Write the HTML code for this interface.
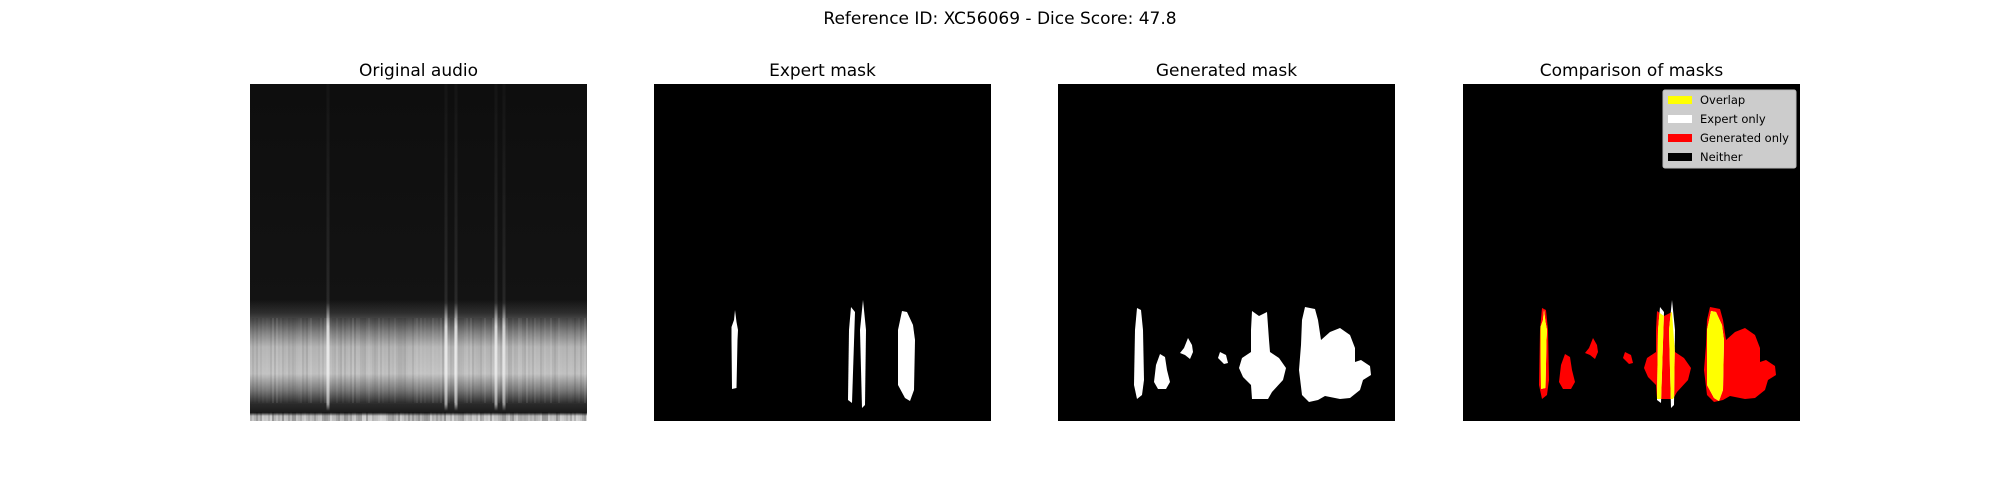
<!DOCTYPE html>
<html><head><meta charset="utf-8"><style>
html,body{margin:0;padding:0;background:#fff;}
body{width:2000px;height:500px;overflow:hidden;font-family:"DejaVu Sans","Liberation Sans",sans-serif;}
text{font-family:"DejaVu Sans","Liberation Sans",sans-serif;}
</style></head><body>
<svg id="fig" width="2000" height="500" viewBox="0 0 2000 500" xmlns="http://www.w3.org/2000/svg">
<defs>
<linearGradient id="specg" x1="0" y1="0" x2="0" y2="1">
<stop offset="0" stop-color="#0e0e0e"/>
<stop offset="0.64" stop-color="#131313"/>
<stop offset="0.68" stop-color="#2e2e2e"/>
<stop offset="0.74" stop-color="#858585"/>
<stop offset="0.78" stop-color="#b5b5b5"/>
<stop offset="0.86" stop-color="#c2c2c2"/>
<stop offset="0.91" stop-color="#777"/>
<stop offset="0.95" stop-color="#2a2a2a"/>
<stop offset="0.975" stop-color="#1a1a1a"/>
<stop offset="0.985" stop-color="#cfcfcf"/>
<stop offset="1" stop-color="#d8d8d8"/>
</linearGradient>
<linearGradient id="streakg" x1="0" y1="0" x2="0" y2="1">
<stop offset="0" stop-color="#fff" stop-opacity="0.03"/>
<stop offset="0.65" stop-color="#fff" stop-opacity="0.1"/>
<stop offset="0.72" stop-color="#fff" stop-opacity="0.8"/>
<stop offset="0.95" stop-color="#fff" stop-opacity="0.6"/>
<stop offset="0.97" stop-color="#fff" stop-opacity="0"/>
</linearGradient>
<clipPath id="spec-clip"><rect x="250" y="84" width="337" height="337"/></clipPath>
</defs>
<text x="1000" y="24" font-size="17" text-anchor="middle" fill="#000">Reference ID: XC56069 - Dice Score: 47.8</text>

<text x="418.5" y="76" font-size="17" text-anchor="middle">Original audio</text>
<text x="822.5" y="76" font-size="17" text-anchor="middle">Expert mask</text>
<text x="1226.5" y="76" font-size="17" text-anchor="middle">Generated mask</text>
<text x="1631.5" y="76" font-size="17" text-anchor="middle">Comparison of masks</text>

<g clip-path="url(#spec-clip)">
<rect x="250" y="84" width="337" height="337" fill="url(#specg)"/>
<g id="spec-streaks"></g>
</g>

<rect x="654" y="84" width="337" height="337" fill="#000"/>
<g id="expert-shapes"></g>

<rect x="1058" y="84" width="337" height="337" fill="#000"/>
<g id="gen-shapes"></g>

<rect x="1463" y="84" width="337" height="337" fill="#000"/>
<g id="cmp-shapes"></g>

<g>
<rect x="1663" y="90" width="133" height="78" rx="2" fill="#cccccc" stroke="#bbb" stroke-width="1"/>
<g><rect x="1668" y="96" width="24" height="8" fill="#ffff00"/><text x="1700" y="104" font-size="11.5">Overlap</text></g>
<g><rect x="1668" y="115" width="24" height="8" fill="#ffffff"/><text x="1700" y="123" font-size="11.5">Expert only</text></g>
<g><rect x="1668" y="134" width="24" height="8" fill="#ff0000"/><text x="1700" y="142" font-size="11.5">Generated only</text></g>
<g><rect x="1668" y="153" width="24" height="8" fill="#000000"/><text x="1700" y="161" font-size="11.5">Neither</text></g>
</g>
</svg>
<script>
const NS='http://www.w3.org/2000/svg';
// Expert mask regions (coords in expert panel pixels)
const expertRegions=[
 [[735,310],[736.5,322],[738,330],[737.5,340],[736.5,388],[732,389],[731.5,340],[731.5,327],[734,320]],
 [[851,307],[855,312],[852,403],[848,400],[849,330]],
 [[863,300],[866,330],[865,405],[862,408],[860,330]],
 [[902,311],[907,312],[913,325],[915,340],[914,390],[910,401],[905,398],[898,385],[898,330]]
];
// Generated mask regions (coords in generated panel pixels)
const generatedRegions=[
 [[1137,308],[1141,310],[1143,330],[1144,380],[1142,395],[1137,399],[1134,385],[1135,330]],
 [[1160,354],[1165,357],[1167,370],[1170,382],[1166,389],[1158,389],[1154,382],[1156,365]],
 [[1188,338],[1192,345],[1193,352],[1190,359],[1185,355],[1180,353],[1184,348]],
 [[1220,352],[1226,355],[1228,363],[1224,364],[1218,358]],
 [[1252,311],[1259,316],[1267,312],[1269,340],[1270,352],[1279,358],[1286,368],[1283,380],[1272,392],[1268,399],[1252,399],[1251,385],[1243,377],[1239,368],[1242,358],[1251,352],[1251,330]],
 [[1305,307],[1315,309],[1318,320],[1321,340],[1330,332],[1340,328],[1350,335],[1355,348],[1355,362],[1361,360],[1370,366],[1371,375],[1363,380],[1360,390],[1350,398],[1340,399],[1325,396],[1318,400],[1309,402],[1302,395],[1299,370],[1301,345],[1302,320]]
];
// spectrogram bright vertical streak positions (time frames, px) and strengths
const streakX=[328,446,456,496,504];
const streakAlpha=[0.9,0.9,0.9,0.9,0.8];
const expertShift=809, genShift=405;

function pts(r,dx){return r.map(p=>(p[0]+dx)+','+p[1]).join(' ');}
function poly(parent,r,dx,fill,name){
 const e=document.createElementNS(NS,'polygon');
 e.setAttribute('points',pts(r,dx));e.setAttribute('fill',fill);
 
 
 parent.appendChild(e);return e;
}
const eg=document.getElementById('expert-shapes');
expertRegions.forEach((r,i)=>poly(eg,r,0,'#fff','expert-region'));
const gg=document.getElementById('gen-shapes');
generatedRegions.forEach((r,i)=>poly(gg,r,0,'#fff','generated-region'));
// comparison
const cg=document.getElementById('cmp-shapes');
const defs=document.querySelector('defs');
const cp=document.createElementNS(NS,'clipPath');cp.setAttribute('id','gen-clip');
generatedRegions.forEach(r=>{const e=document.createElementNS(NS,'polygon');e.setAttribute('points',pts(r,genShift));cp.appendChild(e);});
defs.appendChild(cp);
generatedRegions.forEach(r=>poly(cg,r,genShift,'#ff0000','generated-only-region'));
expertRegions.forEach(r=>poly(cg,r,expertShift,'#ffffff','expert-only-region'));
const ov=document.createElementNS(NS,'g');ov.setAttribute('clip-path','url(#gen-clip)');


cg.appendChild(ov);
expertRegions.forEach(r=>poly(ov,r,expertShift,'#ffff00','overlap-region'));
// spectrogram texture
const sg=document.getElementById('spec-streaks');
let seed=7;function rnd(){seed=(seed*9301+49297)%233280;return seed/233280;}
for(let x=250;x<587;x+=2){
 const l=document.createElementNS(NS,'rect');
 l.setAttribute('x',x);l.setAttribute('y',318);l.setAttribute('width',2);l.setAttribute('height',85);
 const v=rnd();l.setAttribute('fill',v>0.5?'#fff':'#000');l.setAttribute('opacity',(Math.abs(v-0.5)*0.18).toFixed(3));
 sg.appendChild(l);
 const b=document.createElementNS(NS,'rect');
 b.setAttribute('x',x);b.setAttribute('y',412);b.setAttribute('width',2);b.setAttribute('height',9);
 b.setAttribute('fill','#000');b.setAttribute('opacity',(rnd()*0.3).toFixed(3));
 sg.appendChild(b);
}
streakX.forEach((x,i)=>{
 const s=document.createElementNS(NS,'rect');
 s.setAttribute('x',x-1.5);s.setAttribute('y',84);s.setAttribute('width',3);s.setAttribute('height',337);
 s.setAttribute('fill','url(#streakg)');s.setAttribute('opacity',streakAlpha[i]);
 
 
 sg.appendChild(s);
});
</script>
</body></html>
